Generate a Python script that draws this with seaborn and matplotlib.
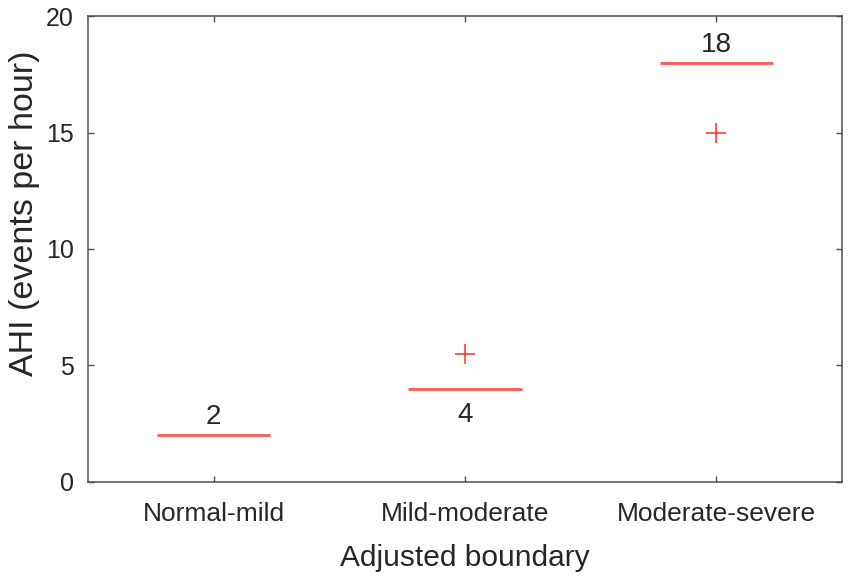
import pandas as pd
import matplotlib
matplotlib.use("Agg")
import matplotlib.pyplot as plt
import seaborn as sns

# values
boundaries = ["Normal-mild", "Mild-moderate", "Moderate-severe"]
medians = [2, 4, 18]
outliers = [None, 5.5, 15]
label_above = [True, False, True]

# table for seaborn: the median repeated, plus the outlier (if any)
rows = []
for name, med, out in zip(boundaries, medians, outliers):
    for _ in range(4):
        rows.append({"boundary": name, "ahi": med})
    if out is not None:
        rows.append({"boundary": name, "ahi": out})
df = pd.DataFrame(rows)

sns.set_style("ticks")
plt.rcParams["font.family"] = ["Liberation Sans", "DejaVu Sans"]

text_col = "#262626"
axis_col = "#4d4d4d"
red = "#ff2b2b"

fig = plt.figure(figsize=(8.51, 5.8), dpi=100)
ax = fig.add_axes([0.1034, 0.169, 0.886, 0.8034])

sns.boxplot(data=df, x="boundary", y="ahi", order=boundaries, width=0.45,
            ax=ax, showcaps=False,
            boxprops={"facecolor": "none", "edgecolor": "none", "linewidth": 0},
            whiskerprops={"visible": False},
            medianprops={"color": red, "linewidth": 2.0, "alpha": 0.8},
            flierprops={"marker": "+", "markeredgecolor": red,
                        "markerfacecolor": red, "markersize": 14,
                        "markeredgewidth": 1.1})

# median labels
for i, (med, above) in enumerate(zip(medians, label_above)):
    dy = 13 if above else -19
    ax.annotate(str(med), xy=(i, med), xytext=(0, dy), textcoords="offset points",
                ha="center", va="center", fontsize=20, color=text_col)

ax.set_xlim(-0.5, 2.5)
ax.set_ylim(0, 20)
ax.set_yticks([0, 5, 10, 15, 20])
ax.set_xlabel("Adjusted boundary", fontsize=21.5, color=text_col, labelpad=13)
ax.set_ylabel("AHI (events per hour)", fontsize=24.5, color=text_col)
ax.yaxis.set_label_coords(-0.064, 0.577)

ax.tick_params(direction="in", length=4, width=1.0, colors=axis_col,
               labelcolor=text_col, top=True, right=True)
ax.tick_params(axis="x", labelsize=19, pad=14.5)
ax.tick_params(axis="y", labelsize=18, pad=10)
for sp in ax.spines.values():
    sp.set_visible(True)
    sp.set_color(axis_col)
    sp.set_linewidth(1.1)

fig.savefig("out.png", dpi=100, facecolor="white")
